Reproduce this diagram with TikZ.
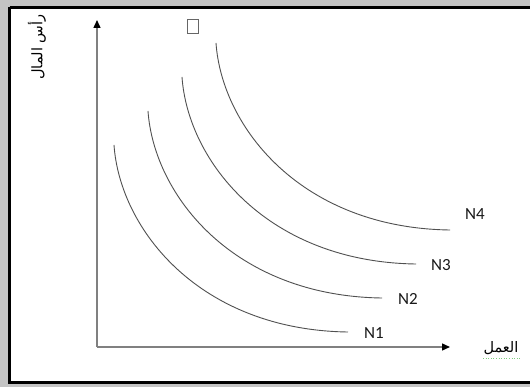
\documentclass[tikz,border=0pt]{standalone}
\usepackage{fontspec}
\setmainfont{Carlito}
\newfontfamily\arabicfont[Script=Arabic]{DejaVu Sans}
\TeXXeTstate=1
\usetikzlibrary{arrows.meta,calc}
\definecolor{bandgray}{HTML}{C4C4C4}
\definecolor{axisgray}{HTML}{808080}
\definecolor{curvegray}{HTML}{505050}
\tikzset{
  axisline/.style={draw=axisgray, line width=1.4pt, -{Triangle[length=8pt,width=7pt,fill=black,color=black]}},
  curveline/.style={draw=curvegray, line width=0.9pt},
  nlabel/.style={font=\fontsize{17}{17}\selectfont, text=black!90, inner sep=0pt},
  arlabel/.style={font=\arabicfont\fontsize{14.5}{14.5}\selectfont, inner sep=0pt},
}
\begin{document}
\begin{tikzpicture}[x=1pt,y=-1pt]
\useasboundingbox (0,0) rectangle (530,387);
% background band and frame
\fill[bandgray] (0,0) rectangle (530,387);
\fill[white] (10,8) rectangle (530,382);
\draw[black, line width=3pt] (9.5,7.5) -- (530,7.5);
\draw[black, line width=3pt] (9.5,7.5) -- (9.5,382.5) -- (530,382.5);
% axes
\coordinate (O) at (97,347);
\coordinate (Ytip) at (97,20);
\coordinate (Xtip) at (450,347);
\draw[axisline] (O) -- (Ytip);
\draw[axisline] (O) -- (Xtip);
% curves
\foreach \i/\sx/\sy in {1/114/145, 2/148/111, 3/182/77, 4/216/43}{
  \coordinate (s\i) at (\sx,\sy);
  \coordinate (e\i) at (\sx+234,\sy+187);
  \draw[curveline] (s\i) .. controls ($(s\i)+(6,85)$) and ($(s\i)+(86,185)$) .. (e\i);
}
% labels
\node[nlabel] (n1) at (374,333) {N1};
\node[nlabel] (n2) at (408,299) {N2};
\node[nlabel] (n3) at (441,265) {N3};
\node[nlabel] (n4) at (475,214) {N4};
% axis titles
\node[arlabel, rotate=90] (ylab) at (37,47) {\beginR رأس المال\endR};
\node[arlabel] (xlab) at (501,348) {\beginR العمل\endR};
\draw[green!60!black!50, line width=0.6pt, dotted] (483,358.5) -- (520,358.5);
% missing-glyph box
\node[draw=black!60, line width=0.8pt, minimum width=11pt, minimum height=14pt, inner sep=0pt] (box) at (192.5,26) {};
\end{tikzpicture}
\end{document}
